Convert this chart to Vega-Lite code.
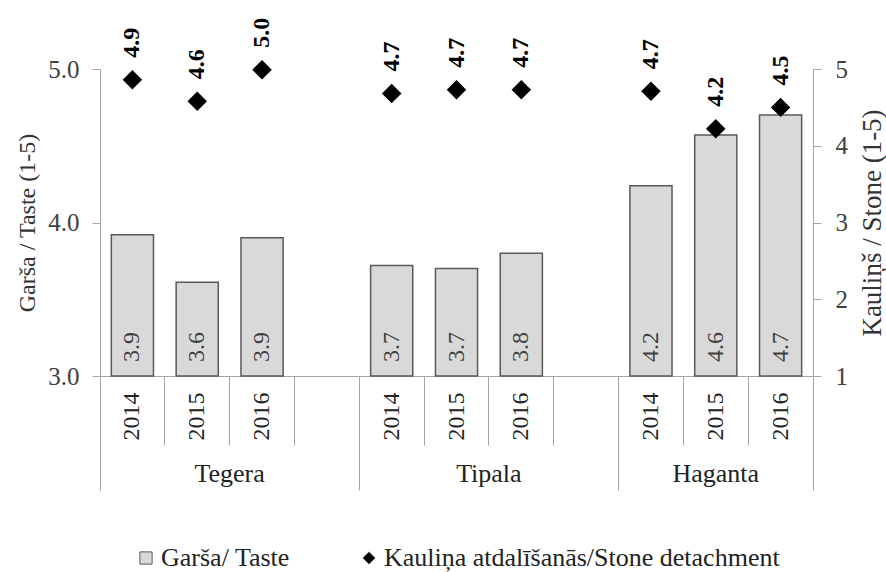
{
  "$schema": "https://vega.github.io/schema/vega-lite/v6.json",
  "width": 713,
  "height": 307,
  "autosize": {"type": "none"},
  "padding": {"left": 100, "top": 69, "right": 73, "bottom": 196},
  "background": "white",
  "config": {
    "font": "Liberation Serif",
    "view": {"stroke": null},
    "axis": {
      "labelFont": "Liberation Serif",
      "titleFont": "Liberation Serif",
      "domainColor": "#a6a6a6",
      "tickColor": "#a6a6a6",
      "labelColor": "#404040",
      "titleColor": "#333333",
      "titleFontWeight": "normal",
      "labelFontSize": 25,
      "titleFontSize": 24,
      "grid": false
    }
  },
  "data": {
    "values": [
      {"slot": "Tegera 2014", "cultivar": "Tegera", "year": "2014", "taste": 3.92, "stone": 4.86},
      {"slot": "Tegera 2015", "cultivar": "Tegera", "year": "2015", "taste": 3.61, "stone": 4.58},
      {"slot": "Tegera 2016", "cultivar": "Tegera", "year": "2016", "taste": 3.90, "stone": 4.99},
      {"slot": "Tipala 2014", "cultivar": "Tipala", "year": "2014", "taste": 3.72, "stone": 4.68},
      {"slot": "Tipala 2015", "cultivar": "Tipala", "year": "2015", "taste": 3.70, "stone": 4.73},
      {"slot": "Tipala 2016", "cultivar": "Tipala", "year": "2016", "taste": 3.80, "stone": 4.73},
      {"slot": "Haganta 2014", "cultivar": "Haganta", "year": "2014", "taste": 4.24, "stone": 4.71},
      {"slot": "Haganta 2015", "cultivar": "Haganta", "year": "2015", "taste": 4.57, "stone": 4.22},
      {"slot": "Haganta 2016", "cultivar": "Haganta", "year": "2016", "taste": 4.70, "stone": 4.50}
    ]
  },
  "layer": [
    {
      "mark": {"type": "bar", "stroke": "#595959", "strokeWidth": 1.5, "width": {"band": 0.65}},
      "encoding": {
        "x": {
          "field": "slot", "type": "nominal",
          "scale": {
            "domain": ["Tegera 2014", "Tegera 2015", "Tegera 2016", "gap1", "Tipala 2014", "Tipala 2015", "Tipala 2016", "gap2", "Haganta 2014", "Haganta 2015", "Haganta 2016"],
            "paddingInner": 0, "paddingOuter": 0
          },
          "axis": {
            "orient": "bottom",
            "title": null,
            "bandPosition": 0,
            "tickSize": 69,
            "labelFontSize": 24,
            "labelAngle": 270,
            "labelAlign": "right",
            "labelBaseline": "middle",
            "labelPadding": -53,
            "labelColor": "#222222",
            "labelExpr": "indexof(datum.value, 'gap') >= 0 ? '' : split(datum.value, ' ')[1]"
          }
        },
        "y": {
          "field": "taste", "type": "quantitative",
          "scale": {"domain": [3, 5], "zero": false},
          "axis": {
            "orient": "left",
            "values": [3, 4, 5],
            "format": ".1f",
            "tickSize": 8,
            "labelPadding": 13,
            "title": "Garša / Taste (1-5)",
            "titlePadding": 8
          }
        },
        "y2": {"datum": 3},
        "color": {
          "datum": "Garša/ Taste",
          "scale": {"domain": ["Garša/ Taste", "Kauliņa atdalīšanās/Stone detachment"], "range": ["#d9d9d9", "#000000"]},
          "legend": {
            "orient": "none",
            "legendX": 33,
            "legendY": 476,
            "direction": "horizontal",
            "title": null,
            "labelFont": "Liberation Serif",
            "labelFontSize": 26,
            "labelColor": "#222222",
            "labelLimit": 0,
            "symbolSize": 150,
            "symbolStrokeColor": "#595959",
            "symbolStrokeWidth": 1,
            "columnPadding": 66,
            "labelOffset": 2
          }
        }
      }
    },
    {
      "mark": {"type": "text", "angle": 270, "align": "left", "baseline": "middle", "dx": 14, "fontSize": 24, "font": "Liberation Serif", "color": "#404040"},
      "encoding": {
        "x": {"field": "slot", "type": "nominal", "axis": null},
        "y": {"datum": 3, "type": "quantitative", "scale": {"domain": [3, 5], "zero": false}, "axis": null},
        "text": {"field": "taste", "type": "quantitative", "format": ".1f"}
      }
    },
    {
      "mark": {"type": "point", "filled": true, "size": 380, "opacity": 1},
      "encoding": {
        "x": {
          "field": "slot", "type": "nominal",
          "axis": {
            "orient": "bottom",
            "title": null,
            "values": ["Tegera 2014", "Tipala 2014", "Haganta 2014"],
            "bandPosition": 0,
            "tickSize": 114,
            "domain": false,
            "labelFontSize": 26,
            "labelAngle": 0,
            "labelAlign": "center",
            "labelBaseline": "top",
            "labelPadding": -30,
            "labelColor": "#222222",
            "labelOffset": {"condition": {"test": "datum.value === 'Haganta 2014'", "value": 64.8}, "value": 97.2},
            "labelExpr": "split(datum.value, ' ')[0]"
          }
        },
        "y": {
          "field": "stone", "type": "quantitative",
          "scale": {"domain": [1, 5], "zero": false},
          "axis": {
            "orient": "right",
            "values": [1, 2, 3, 4, 5],
            "format": "d",
            "tickSize": 8,
            "labelPadding": 14,
            "title": "Kauliņš / Stone (1-5)",
            "titleFontSize": 27,
            "titleAngle": 270,
            "titleBaseline": "top",
            "titlePadding": 12
          }
        },
        "color": {"datum": "Kauliņa atdalīšanās/Stone detachment"},
        "shape": {
          "datum": "Kauliņa atdalīšanās/Stone detachment",
          "scale": {"domain": ["Garša/ Taste", "Kauliņa atdalīšanās/Stone detachment"], "range": ["square", "diamond"]},
          "legend": {
            "orient": "none",
            "legendX": 33,
            "legendY": 476,
            "direction": "horizontal",
            "title": null,
            "labelFont": "Liberation Serif",
            "labelFontSize": 26,
            "labelColor": "#222222",
            "labelLimit": 0,
            "symbolSize": 150,
            "symbolStrokeColor": "#595959",
            "symbolStrokeWidth": 1,
            "columnPadding": 66,
            "labelOffset": 2
          }
        }
      }
    },
    {
      "mark": {"type": "text", "angle": 270, "align": "left", "baseline": "middle", "dx": 22, "fontSize": 24, "font": "Liberation Serif", "fontWeight": "bold", "color": "#000000"},
      "encoding": {
        "x": {
          "field": "slot", "type": "nominal",
          "axis": {
            "orient": "bottom",
            "title": null,
            "values": ["Haganta 2016"],
            "bandPosition": 1,
            "tickSize": 114,
            "domain": false,
            "labels": false
          }
        },
        "y": {"field": "stone", "type": "quantitative", "scale": {"domain": [1, 5], "zero": false}, "axis": null},
        "text": {"field": "stone", "type": "quantitative", "format": ".1f"}
      }
    }
  ],
  "resolve": {
    "scale": {"y": "independent"},
    "axis": {"x": "independent", "y": "independent"}
  }
}
